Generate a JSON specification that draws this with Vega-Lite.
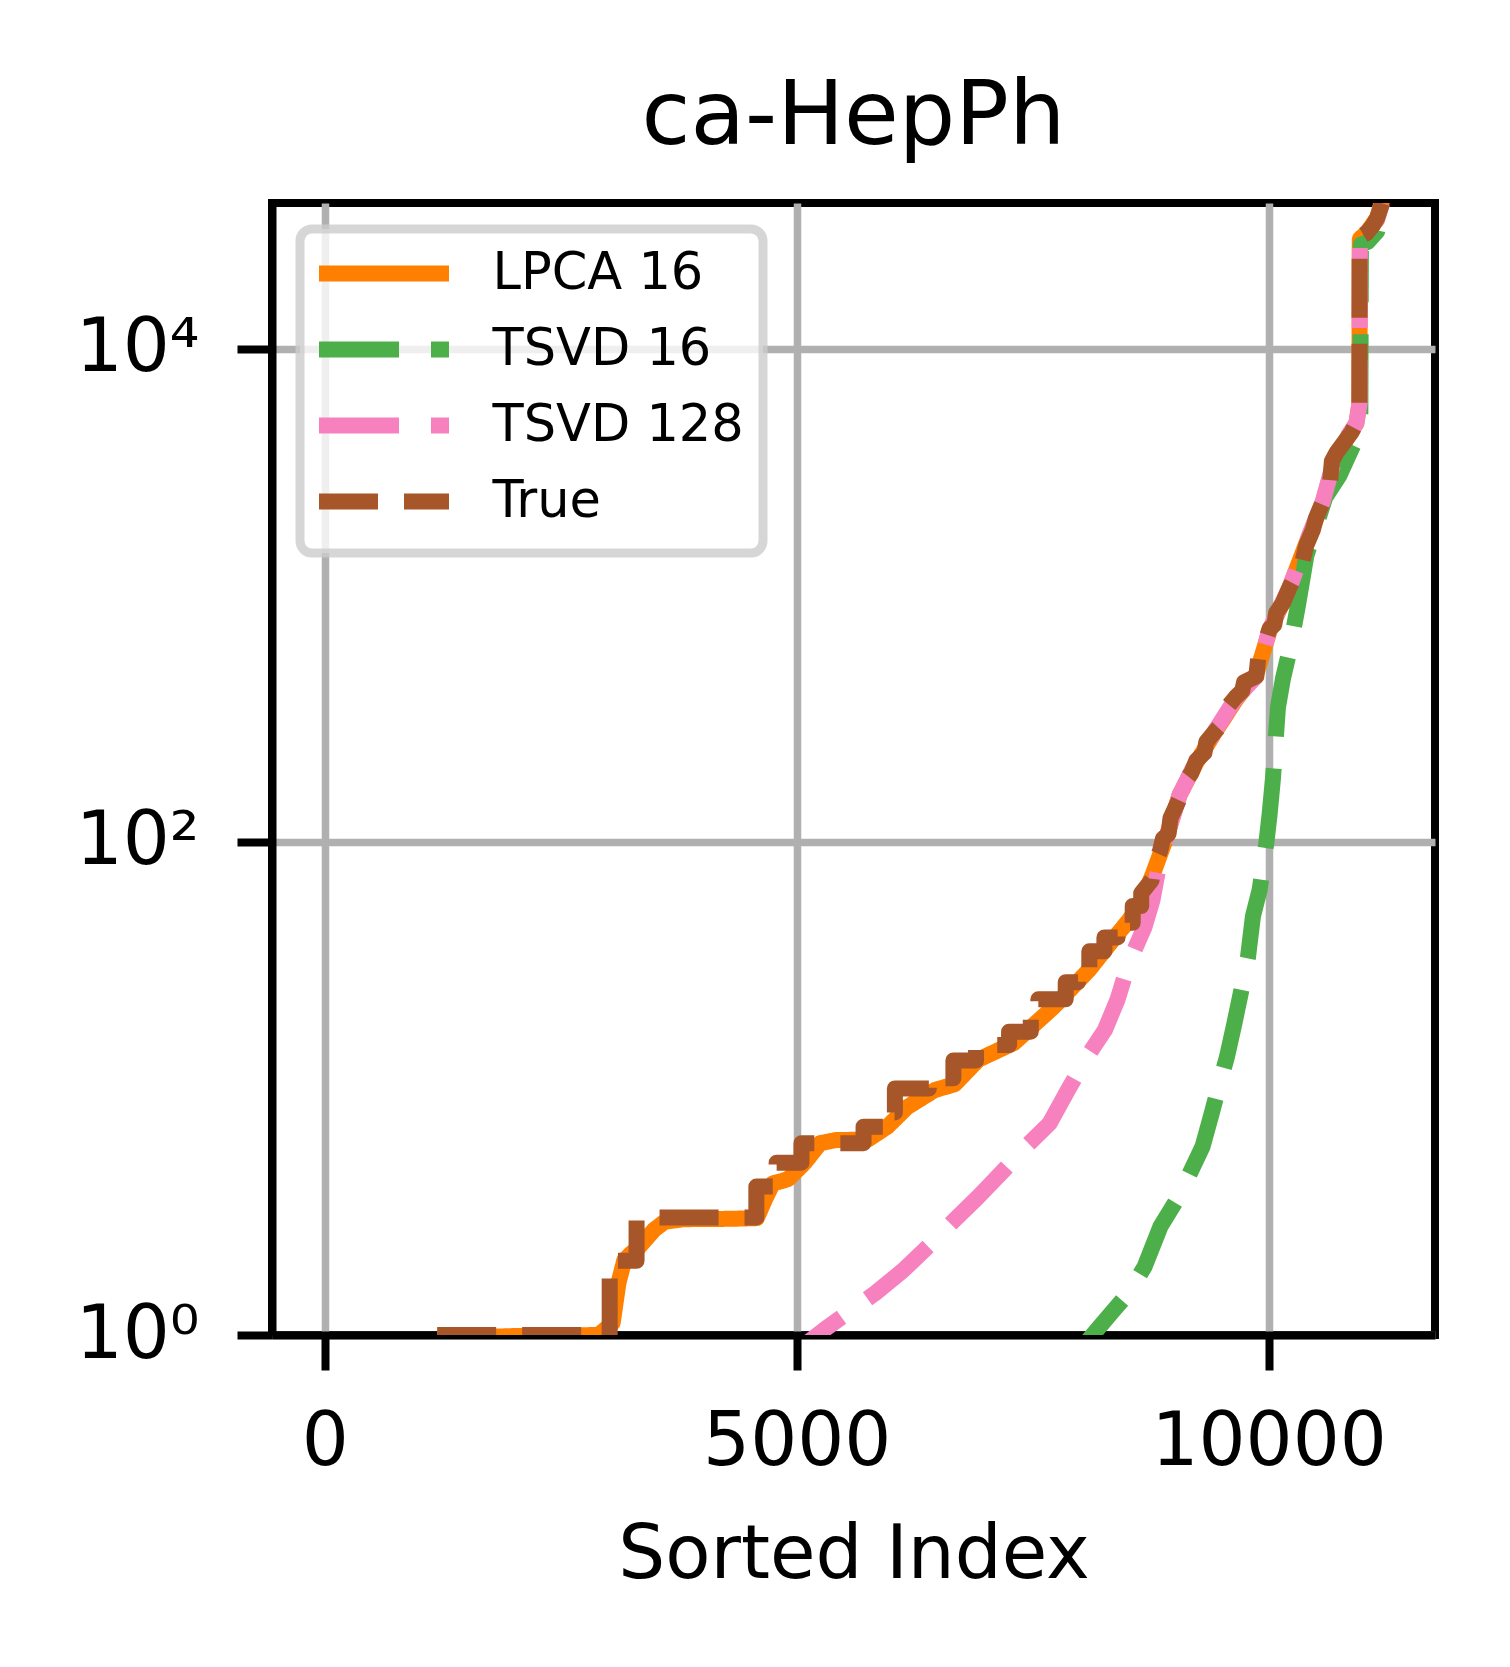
{
  "$schema": "https://vega.github.io/schema/vega-lite/v6.json",
  "width": 1163,
  "height": 1132,
  "autosize": {"type": "none"},
  "padding": {"left": 272, "top": 203, "right": 75, "bottom": 332},
  "title": {
    "text": "ca-HepPh",
    "fontSize": 89,
    "fontWeight": "normal",
    "color": "black",
    "anchor": "middle",
    "offset": 40
  },
  "data": {
    "values": [
      {"series": "LPCA 16", "index": 1190, "value": 0.97},
      {"series": "LPCA 16", "index": 2000, "value": 0.99},
      {"series": "LPCA 16", "index": 2900, "value": 1.0},
      {"series": "LPCA 16", "index": 3050, "value": 1.12},
      {"series": "LPCA 16", "index": 3110, "value": 1.62},
      {"series": "LPCA 16", "index": 3173, "value": 2.01},
      {"series": "LPCA 16", "index": 3250, "value": 2.15},
      {"series": "LPCA 16", "index": 3319, "value": 2.25},
      {"series": "LPCA 16", "index": 3488, "value": 2.67},
      {"series": "LPCA 16", "index": 3600, "value": 2.88},
      {"series": "LPCA 16", "index": 3800, "value": 2.95},
      {"series": "LPCA 16", "index": 4300, "value": 2.96},
      {"series": "LPCA 16", "index": 4577, "value": 2.98},
      {"series": "LPCA 16", "index": 4661, "value": 3.53},
      {"series": "LPCA 16", "index": 4745, "value": 4.12},
      {"series": "LPCA 16", "index": 4850, "value": 4.22},
      {"series": "LPCA 16", "index": 4912, "value": 4.3},
      {"series": "LPCA 16", "index": 5080, "value": 4.98},
      {"series": "LPCA 16", "index": 5248, "value": 6.0},
      {"series": "LPCA 16", "index": 5416, "value": 6.18},
      {"series": "LPCA 16", "index": 5751, "value": 6.2},
      {"series": "LPCA 16", "index": 5960, "value": 7.0},
      {"series": "LPCA 16", "index": 6170, "value": 8.4},
      {"series": "LPCA 16", "index": 6463, "value": 9.86},
      {"series": "LPCA 16", "index": 6673, "value": 10.4},
      {"series": "LPCA 16", "index": 6925, "value": 13.1},
      {"series": "LPCA 16", "index": 7301, "value": 15.3},
      {"series": "LPCA 16", "index": 7721, "value": 21.4},
      {"series": "LPCA 16", "index": 8098, "value": 30.3},
      {"series": "LPCA 16", "index": 8350, "value": 40.1},
      {"series": "LPCA 16", "index": 8517, "value": 48},
      {"series": "LPCA 16", "index": 8650, "value": 57},
      {"series": "LPCA 16", "index": 8773, "value": 74},
      {"series": "LPCA 16", "index": 8915, "value": 104},
      {"series": "LPCA 16", "index": 9056, "value": 155},
      {"series": "LPCA 16", "index": 9234, "value": 210},
      {"series": "LPCA 16", "index": 9446, "value": 285},
      {"series": "LPCA 16", "index": 9658, "value": 380},
      {"series": "LPCA 16", "index": 9870, "value": 480},
      {"series": "LPCA 16", "index": 10011, "value": 720},
      {"series": "LPCA 16", "index": 10223, "value": 1080},
      {"series": "LPCA 16", "index": 10400, "value": 1630},
      {"series": "LPCA 16", "index": 10576, "value": 2400},
      {"series": "LPCA 16", "index": 10700, "value": 3500},
      {"series": "LPCA 16", "index": 10824, "value": 4300},
      {"series": "LPCA 16", "index": 10930, "value": 5000},
      {"series": "LPCA 16", "index": 10962, "value": 6000},
      {"series": "LPCA 16", "index": 10966, "value": 28000},
      {"series": "LPCA 16", "index": 11036, "value": 29500},
      {"series": "LPCA 16", "index": 11150, "value": 34000},
      {"series": "LPCA 16", "index": 11203, "value": 40000},

      {"series": "TSVD 16", "index": 7900, "value": 0.78},
      {"series": "TSVD 16", "index": 8181, "value": 1.05},
      {"series": "TSVD 16", "index": 8350, "value": 1.25},
      {"series": "TSVD 16", "index": 8517, "value": 1.48},
      {"series": "TSVD 16", "index": 8685, "value": 1.89},
      {"series": "TSVD 16", "index": 8853, "value": 2.75},
      {"series": "TSVD 16", "index": 9020, "value": 3.5},
      {"series": "TSVD 16", "index": 9150, "value": 4.4},
      {"series": "TSVD 16", "index": 9299, "value": 5.8},
      {"series": "TSVD 16", "index": 9400, "value": 8.0},
      {"series": "TSVD 16", "index": 9469, "value": 10.1},
      {"series": "TSVD 16", "index": 9560, "value": 13.5},
      {"series": "TSVD 16", "index": 9638, "value": 18.4},
      {"series": "TSVD 16", "index": 9720, "value": 26},
      {"series": "TSVD 16", "index": 9781, "value": 34},
      {"series": "TSVD 16", "index": 9834, "value": 50},
      {"series": "TSVD 16", "index": 9905, "value": 64},
      {"series": "TSVD 16", "index": 9976, "value": 99},
      {"series": "TSVD 16", "index": 10011, "value": 130},
      {"series": "TSVD 16", "index": 10046, "value": 181},
      {"series": "TSVD 16", "index": 10099, "value": 352},
      {"series": "TSVD 16", "index": 10152, "value": 460},
      {"series": "TSVD 16", "index": 10223, "value": 601},
      {"series": "TSVD 16", "index": 10311, "value": 912},
      {"series": "TSVD 16", "index": 10400, "value": 1450},
      {"series": "TSVD 16", "index": 10500, "value": 1900},
      {"series": "TSVD 16", "index": 10600, "value": 2500},
      {"series": "TSVD 16", "index": 10753, "value": 3080},
      {"series": "TSVD 16", "index": 10900, "value": 4100},
      {"series": "TSVD 16", "index": 10972, "value": 5300},
      {"series": "TSVD 16", "index": 10978, "value": 26500},
      {"series": "TSVD 16", "index": 11050, "value": 27200},
      {"series": "TSVD 16", "index": 11150, "value": 30000},
      {"series": "TSVD 16", "index": 11203, "value": 38000},

      {"series": "TSVD 128", "index": 4800, "value": 0.75},
      {"series": "TSVD 128", "index": 5290, "value": 1.05},
      {"series": "TSVD 128", "index": 5834, "value": 1.48},
      {"series": "TSVD 128", "index": 6128, "value": 1.83},
      {"series": "TSVD 128", "index": 6400, "value": 2.3},
      {"series": "TSVD 128", "index": 6673, "value": 2.93},
      {"series": "TSVD 128", "index": 6924, "value": 3.64},
      {"series": "TSVD 128", "index": 7180, "value": 4.6},
      {"series": "TSVD 128", "index": 7427, "value": 5.81},
      {"series": "TSVD 128", "index": 7679, "value": 7.22},
      {"series": "TSVD 128", "index": 7870, "value": 9.8},
      {"series": "TSVD 128", "index": 8056, "value": 13.1},
      {"series": "TSVD 128", "index": 8266, "value": 17.3},
      {"series": "TSVD 128", "index": 8400, "value": 23},
      {"series": "TSVD 128", "index": 8517, "value": 32.2},
      {"series": "TSVD 128", "index": 8685, "value": 45.2},
      {"series": "TSVD 128", "index": 8769, "value": 58},
      {"series": "TSVD 128", "index": 8850, "value": 85},
      {"series": "TSVD 128", "index": 8915, "value": 104},
      {"series": "TSVD 128", "index": 9056, "value": 155},
      {"series": "TSVD 128", "index": 9234, "value": 212},
      {"series": "TSVD 128", "index": 9446, "value": 288},
      {"series": "TSVD 128", "index": 9658, "value": 385},
      {"series": "TSVD 128", "index": 9870, "value": 470},
      {"series": "TSVD 128", "index": 10011, "value": 730},
      {"series": "TSVD 128", "index": 10223, "value": 1080},
      {"series": "TSVD 128", "index": 10400, "value": 1640},
      {"series": "TSVD 128", "index": 10576, "value": 2420},
      {"series": "TSVD 128", "index": 10700, "value": 3600},
      {"series": "TSVD 128", "index": 10824, "value": 4350},
      {"series": "TSVD 128", "index": 10930, "value": 5000},
      {"series": "TSVD 128", "index": 10964, "value": 6000},
      {"series": "TSVD 128", "index": 10967, "value": 28000},
      {"series": "TSVD 128", "index": 11040, "value": 29200},
      {"series": "TSVD 128", "index": 11150, "value": 33500},
      {"series": "TSVD 128", "index": 11203, "value": 39000},

      {"series": "True", "index": 1190, "value": 1},
      {"series": "True", "index": 3018, "value": 1},
      {"series": "True", "index": 3018, "value": 2},
      {"series": "True", "index": 3303, "value": 2},
      {"series": "True", "index": 3303, "value": 3},
      {"series": "True", "index": 4572, "value": 3},
      {"series": "True", "index": 4572, "value": 4},
      {"series": "True", "index": 4787, "value": 4},
      {"series": "True", "index": 4787, "value": 5},
      {"series": "True", "index": 5050, "value": 5},
      {"series": "True", "index": 5050, "value": 6},
      {"series": "True", "index": 5708, "value": 6},
      {"series": "True", "index": 5708, "value": 7},
      {"series": "True", "index": 5917, "value": 7},
      {"series": "True", "index": 5917, "value": 8},
      {"series": "True", "index": 6040, "value": 8},
      {"series": "True", "index": 6040, "value": 10},
      {"series": "True", "index": 6400, "value": 10},
      {"series": "True", "index": 6400, "value": 11},
      {"series": "True", "index": 6660, "value": 11},
      {"series": "True", "index": 6660, "value": 13},
      {"series": "True", "index": 6900, "value": 13},
      {"series": "True", "index": 6900, "value": 15},
      {"series": "True", "index": 7250, "value": 15},
      {"series": "True", "index": 7250, "value": 17},
      {"series": "True", "index": 7480, "value": 17},
      {"series": "True", "index": 7480, "value": 20},
      {"series": "True", "index": 7560, "value": 20},
      {"series": "True", "index": 7560, "value": 23},
      {"series": "True", "index": 7850, "value": 23},
      {"series": "True", "index": 7850, "value": 27},
      {"series": "True", "index": 7980, "value": 27},
      {"series": "True", "index": 7980, "value": 31},
      {"series": "True", "index": 8100, "value": 31},
      {"series": "True", "index": 8100, "value": 36},
      {"series": "True", "index": 8260, "value": 36},
      {"series": "True", "index": 8260, "value": 41},
      {"series": "True", "index": 8400, "value": 41},
      {"series": "True", "index": 8400, "value": 47},
      {"series": "True", "index": 8560, "value": 47},
      {"series": "True", "index": 8560, "value": 55},
      {"series": "True", "index": 8650, "value": 55},
      {"series": "True", "index": 8650, "value": 62},
      {"series": "True", "index": 8760, "value": 70},
      {"series": "True", "index": 8780, "value": 80},
      {"series": "True", "index": 8850, "value": 92},
      {"series": "True", "index": 8880, "value": 103},
      {"series": "True", "index": 8940, "value": 108},
      {"series": "True", "index": 8960, "value": 125},
      {"series": "True", "index": 9056, "value": 150},
      {"series": "True", "index": 9080, "value": 170},
      {"series": "True", "index": 9180, "value": 190},
      {"series": "True", "index": 9234, "value": 214},
      {"series": "True", "index": 9320, "value": 230},
      {"series": "True", "index": 9340, "value": 255},
      {"series": "True", "index": 9446, "value": 285},
      {"series": "True", "index": 9500, "value": 300},
      {"series": "True", "index": 9530, "value": 340},
      {"series": "True", "index": 9658, "value": 390},
      {"series": "True", "index": 9720, "value": 410},
      {"series": "True", "index": 9740, "value": 445},
      {"series": "True", "index": 9870, "value": 470},
      {"series": "True", "index": 9890, "value": 560},
      {"series": "True", "index": 9960, "value": 640},
      {"series": "True", "index": 10011, "value": 734},
      {"series": "True", "index": 10060, "value": 760},
      {"series": "True", "index": 10080, "value": 850},
      {"series": "True", "index": 10150, "value": 930},
      {"series": "True", "index": 10223, "value": 1080},
      {"series": "True", "index": 10260, "value": 1150},
      {"series": "True", "index": 10294, "value": 1300},
      {"series": "True", "index": 10360, "value": 1380},
      {"series": "True", "index": 10400, "value": 1600},
      {"series": "True", "index": 10470, "value": 1850},
      {"series": "True", "index": 10500, "value": 2050},
      {"series": "True", "index": 10576, "value": 2400},
      {"series": "True", "index": 10647, "value": 2750},
      {"series": "True", "index": 10670, "value": 3500},
      {"series": "True", "index": 10720, "value": 3800},
      {"series": "True", "index": 10824, "value": 4300},
      {"series": "True", "index": 10880, "value": 4600},
      {"series": "True", "index": 10930, "value": 5000},
      {"series": "True", "index": 10962, "value": 5600},
      {"series": "True", "index": 10965, "value": 28400},
      {"series": "True", "index": 11036, "value": 29500},
      {"series": "True", "index": 11100, "value": 31500},
      {"series": "True", "index": 11150, "value": 34000},
      {"series": "True", "index": 11203, "value": 39000}
    ]
  },
  "encoding": {
    "x": {
      "field": "index",
      "type": "quantitative",
      "scale": {"domain": [-560, 11763], "nice": false, "zero": false},
      "axis": {
        "title": "Sorted Index",
        "values": [0, 5000, 10000],
        "format": "d",
        "labelFlush": false,
        "labelOverlap": false,
        "labelPadding": 36,
        "titlePadding": 40
      }
    },
    "y": {
      "field": "value",
      "type": "quantitative",
      "scale": {"type": "log", "domain": [1, 39100], "nice": false},
      "axis": {
        "title": null,
        "values": [1, 100, 10000],
        "labelExpr": "datum.value == 1 ? '10⁰' : datum.value == 100 ? '10²' : '10⁴'",
        "labelPadding": 38
      }
    },
    "color": {
      "field": "series",
      "type": "nominal",
      "scale": {
        "domain": ["LPCA 16", "TSVD 16", "TSVD 128", "True"],
        "range": ["#ff7f00", "#4daf4a", "#f781bf", "#a65628"]
      },
      "legend": {"title": null, "orient": "none", "legendX": 28, "legendY": 26}
    },
    "strokeDash": {
      "field": "series",
      "type": "nominal",
      "scale": {
        "domain": ["LPCA 16", "TSVD 16", "TSVD 128", "True"],
        "range": [[1, 0], [80, 32], [80, 32], [59, 26]]
      },
      "legend": {"title": null, "orient": "none", "legendX": 28, "legendY": 26}
    }
  },
  "layer": [
    {
      "transform": [{"filter": "datum.series == 'LPCA 16'"}],
      "mark": {"type": "line", "clip": true, "strokeWidth": 16, "strokeJoin": "round"}
    },
    {
      "transform": [{"filter": "datum.series == 'TSVD 16'"}],
      "mark": {"type": "line", "clip": true, "strokeWidth": 16, "strokeJoin": "round"}
    },
    {
      "transform": [{"filter": "datum.series == 'TSVD 128'"}],
      "mark": {"type": "line", "clip": true, "strokeWidth": 16, "strokeJoin": "round"}
    },
    {
      "transform": [{"filter": "datum.series == 'True'"}],
      "mark": {"type": "line", "clip": true, "strokeWidth": 16, "strokeJoin": "round"}
    }
  ],
  "config": {
    "font": "DejaVu Sans",
    "view": {"stroke": "black", "strokeWidth": 8},
    "axis": {
      "domain": true,
      "domainColor": "black",
      "domainWidth": 8,
      "grid": true,
      "gridColor": "#b0b0b0",
      "gridWidth": 7.5,
      "gridOpacity": 1,
      "tickColor": "black",
      "tickWidth": 8,
      "tickSize": 35,
      "labelFontSize": 74,
      "labelColor": "black",
      "labelLimit": 600,
      "titleFontSize": 74,
      "titleFontWeight": "normal",
      "titleColor": "black"
    },
    "legend": {
      "symbolType": "M-4,0L4,0",
      "symbolSize": 1056,
      "symbolStrokeWidth": 16,
      "symbolOffset": 39.5,
      "labelFontSize": 51,
      "labelColor": "black",
      "labelOffset": 83,
      "labelLimit": 600,
      "padding": 19,
      "rowPadding": 11,
      "fillColor": "rgba(255,255,255,0.8)",
      "strokeColor": "rgba(204,204,204,0.8)",
      "strokeWidth": 9,
      "cornerRadius": 12
    }
  }
}
